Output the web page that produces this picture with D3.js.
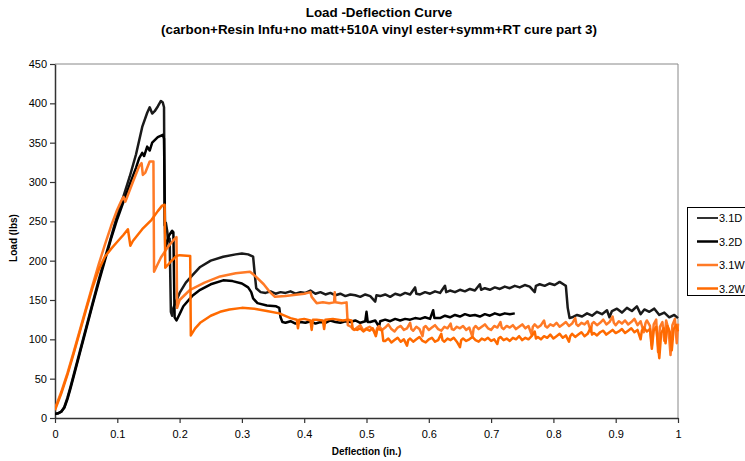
<!DOCTYPE html>
<html>
<head>
<meta charset="utf-8">
<script src="https://cdn.jsdelivr.net/npm/d3@7"></script>
<style>
  body { margin: 0; background: #fff; }
  text { font-family: "Liberation Sans", Arial, sans-serif; }
</style>
</head>
<body>
<svg id="chart" width="745" height="461"></svg>
<script>
// Load-deflection records, [deflection (in.), load (lbs)]
const seriesNames = ["3.1D", "3.2D", "3.1W", "3.2W"];
const xTickValues = [0, 0.1, 0.2, 0.3, 0.4, 0.5, 0.6, 0.7, 0.8, 0.9, 1];
const yTickValues = [0, 50, 100, 150, 200, 250, 300, 350, 400, 450];

const load31D = [
  [0,5],[0.005,6],[0.01,8],[0.015,14],[0.02,26],[0.025,40],[0.03,55],[0.04,85],[0.05,115],
  [0.06,145],[0.07,175],[0.08,203],[0.09,230],[0.1,258],[0.11,282],[0.12,307],[0.13,335],
  [0.14,370],[0.148,388],[0.152,395],[0.156,387],[0.16,390],[0.165,396],[0.17,403],[0.173,401],
  [0.175,395],[0.176,245],[0.178,248],[0.18,238],[0.182,225],[0.184,228],[0.186,135],[0.188,130],
  [0.19,140],[0.2,159],[0.21,172],[0.22,181],[0.233,192],[0.25,200],[0.27,205],[0.29,208],
  [0.3,209],[0.31,208],[0.318,205],[0.321,180],[0.323,165],[0.33,160],
  [0.338,159],[0.346,161],[0.354,158],[0.362,160],[0.37,159],[0.378,161],[0.386,158],[0.394,160],
  [0.402,159],[0.41,162],[0.418,158],[0.426,160],[0.434,157],[0.442,159],[0.45,156],[0.458,158],
  [0.466,155],[0.474,157],[0.482,156],[0.49,154],[0.498,157],[0.506,155],[0.514,148],[0.516,156],
  [0.522,155],[0.53,157],[0.538,154],[0.546,158],[0.554,156],[0.562,159],[0.57,157],[0.578,166],
  [0.58,158],[0.586,157],[0.594,160],[0.602,158],[0.61,161],[0.618,159],[0.626,168],[0.628,160],
  [0.634,162],[0.642,160],[0.65,163],[0.658,161],[0.666,164],[0.674,162],[0.682,170],[0.684,163],
  [0.69,165],[0.698,163],[0.706,166],[0.714,164],[0.722,167],[0.73,165],[0.738,168],[0.746,166],
  [0.754,169],[0.762,167],[0.77,160],[0.772,168],[0.778,170],[0.786,168],[0.794,171],[0.802,169],
  [0.81,173],[0.816,170],[0.82,168],[0.823,140],[0.826,127],[0.83,128],[0.838,131],[0.846,129],
  [0.854,133],[0.862,130],[0.87,135],[0.878,132],[0.886,137],[0.89,128],[0.894,136],[0.902,139],
  [0.91,134],[0.918,140],[0.926,136],[0.934,142],[0.94,132],[0.946,138],[0.954,135],[0.962,139],
  [0.97,131],[0.978,134],[0.986,128],[0.994,131],[1.0,127]
];

const load32D = [
  [0,5],[0.005,6],[0.01,8],[0.015,13],[0.02,24],[0.025,38],[0.03,53],[0.04,83],[0.05,113],
  [0.06,143],[0.07,172],[0.08,200],[0.09,228],[0.1,253],[0.11,275],[0.12,297],[0.13,318],
  [0.135,330],[0.14,337],[0.143,333],[0.148,345],[0.152,340],[0.156,350],[0.165,357],[0.173,360],
  [0.175,355],[0.177,215],[0.183,232],[0.188,238],[0.19,236],[0.192,128],[0.195,124],[0.2,132],
  [0.206,142],[0.22,155],[0.233,163],[0.25,170],[0.27,175],[0.285,174],[0.3,171],[0.31,166],
  [0.315,160],[0.318,152],[0.325,146],[0.34,143],[0.355,142],[0.36,140],[0.362,128],[0.365,122],
  [0.37,121],[0.378,123],[0.386,120],[0.394,122],[0.402,121],[0.41,123],[0.418,120],[0.426,122],
  [0.434,121],[0.442,124],[0.45,122],[0.458,121],[0.466,123],[0.474,122],[0.482,124],[0.49,121],
  [0.498,123],[0.5,135],[0.502,122],[0.506,122],[0.514,124],[0.52,116],[0.522,123],[0.53,125],
  [0.538,123],[0.546,126],[0.554,124],[0.562,126],[0.57,125],[0.578,127],[0.586,126],[0.594,128],
  [0.602,126],[0.607,137],[0.609,127],[0.618,127],[0.626,130],[0.634,128],[0.642,131],[0.65,129],
  [0.658,132],[0.666,130],[0.674,131],[0.682,129],[0.69,132],[0.698,130],[0.706,133],[0.714,131],
  [0.722,133],[0.73,132],[0.738,133]
];

const load31W = [
  [0,12],[0.01,33],[0.02,57],[0.03,84],[0.04,112],[0.05,140],[0.06,168],[0.07,195],[0.08,220],
  [0.09,244],[0.1,265],[0.107,277],[0.11,281],[0.113,275],[0.125,300],[0.135,320],[0.139,324],
  [0.141,309],[0.145,312],[0.152,326],[0.158,326],[0.159,186],[0.17,204],[0.18,216],[0.19,226],
  [0.195,230],[0.196,140],[0.2,150],[0.217,163],[0.24,172],[0.265,180],[0.29,184],[0.313,186],
  [0.322,180],[0.335,170],[0.345,160],[0.353,154],[0.37,155],[0.38,156],[0.39,157],[0.4,158],
  [0.41,160],[0.412,154],[0.42,146],[0.43,147],[0.44,146],[0.448,147],[0.449,160],[0.45,147],
  [0.46,146],[0.468,147],[0.47,118],
  [0.475,116],[0.48,112],[0.485,115],[0.49,118],[0.495,111],[0.5,114],[0.505,116],[0.51,113],
  [0.515,106],[0.517,114],[0.52,117],[0.525,112],[0.53,115],[0.535,119],[0.54,113],[0.545,110],
  [0.55,115],[0.555,117],[0.56,112],[0.565,114],[0.57,121],[0.572,113],[0.575,111],[0.58,116],
  [0.585,113],[0.59,104],[0.592,115],[0.595,117],[0.6,112],[0.605,115],[0.61,118],[0.615,113],
  [0.62,111],[0.625,116],[0.63,114],[0.635,120],[0.637,113],[0.64,112],[0.645,116],[0.65,114],
  [0.655,117],[0.66,112],[0.665,115],[0.67,103],[0.672,114],[0.675,117],[0.68,113],[0.685,116],
  [0.69,119],[0.695,114],[0.7,112],[0.705,117],[0.71,115],[0.715,122],[0.717,115],[0.72,113],
  [0.725,117],[0.73,115],[0.735,118],[0.74,113],[0.745,116],[0.75,119],[0.755,114],[0.76,117],
  [0.765,106],[0.767,116],[0.77,119],[0.775,115],[0.78,118],[0.785,124],[0.787,117],[0.79,115],
  [0.795,119],[0.8,117],[0.805,121],[0.81,116],[0.815,119],[0.82,122],[0.825,117],[0.83,120],
  [0.835,127],[0.837,119],[0.84,117],[0.845,121],[0.85,119],[0.855,123],[0.86,110],[0.862,120],
  [0.865,122],[0.87,118],[0.875,121],[0.88,125],[0.885,119],[0.89,122],[0.895,129],[0.897,121],
  [0.9,118],[0.905,123],[0.91,120],[0.915,124],[0.92,119],[0.925,122],[0.93,126],[0.935,118],
  [0.94,123],[0.945,109],[0.948,121],[0.95,124],[0.955,117],[0.958,92],[0.961,119],[0.965,125],
  [0.968,84],[0.971,116],[0.975,122],[0.978,98],[0.981,124],[0.985,112],[0.988,80],[0.991,118],
  [0.995,126],[0.998,95],[1.0,120]
];

const load32W = [
  [0,10],[0.01,31],[0.02,55],[0.03,82],[0.04,110],[0.05,138],[0.06,165],[0.07,188],[0.08,205],
  [0.09,215],[0.1,224],[0.11,233],[0.117,240],[0.121,219],[0.125,225],[0.14,240],[0.155,252],
  [0.165,263],[0.172,270],[0.176,271],[0.177,191],[0.185,198],[0.195,206],[0.2,207],[0.217,206],
  [0.218,105],[0.225,114],[0.233,121],[0.25,130],[0.265,135],[0.28,138],[0.3,140],[0.32,139],
  [0.34,136],[0.36,133],[0.378,127],[0.388,125],[0.39,114],[0.392,125],[0.4,126],[0.41,124],
  [0.412,112],[0.414,125],[0.42,125],[0.43,124],[0.432,113],[0.434,125],[0.446,126],[0.454,125],
  [0.462,124],[0.47,125],[0.476,124],[0.478,113],[0.485,112],[0.49,114],[0.495,110],[0.5,113],
  [0.505,111],[0.51,114],[0.515,104],[0.517,112],[0.52,113],[0.525,111],[0.527,98],
  [0.53,98],[0.535,101],[0.54,96],[0.545,99],[0.55,102],[0.555,97],[0.56,100],[0.565,92],
  [0.567,99],[0.57,101],[0.575,97],[0.58,100],[0.585,103],[0.59,98],[0.595,96],[0.6,100],
  [0.605,102],[0.61,97],[0.615,99],[0.62,107],[0.622,99],[0.625,97],[0.63,101],[0.635,99],
  [0.64,102],[0.645,97],[0.65,90],[0.652,99],[0.655,101],[0.66,98],[0.665,100],[0.67,103],
  [0.675,99],[0.68,97],[0.685,101],[0.69,99],[0.695,102],[0.7,98],[0.705,100],[0.71,94],
  [0.712,101],[0.715,103],[0.72,99],[0.725,101],[0.73,98],[0.735,102],[0.74,100],[0.745,104],
  [0.75,99],[0.755,102],[0.76,100],[0.765,104],[0.77,110],[0.772,101],[0.775,103],[0.78,100],
  [0.785,104],[0.79,102],[0.795,106],[0.8,101],[0.805,104],[0.81,107],[0.815,102],[0.82,105],
  [0.825,97],[0.827,104],[0.83,107],[0.835,103],[0.84,106],[0.845,109],[0.85,104],[0.855,107],
  [0.86,115],[0.862,106],[0.865,108],[0.87,105],[0.875,109],[0.88,111],[0.885,106],[0.89,109],
  [0.895,112],[0.9,108],[0.905,110],[0.91,113],[0.915,108],[0.92,111],[0.925,114],[0.93,109],
  [0.935,112],[0.94,100],[0.942,111],[0.945,115],[0.95,110],[0.955,113],[0.958,88],[0.961,111],
  [0.965,116],[0.97,76],[0.973,108],[0.977,114],[0.98,95],[0.983,117],[0.987,109],[0.99,86],
  [0.993,113],[0.997,118],[1.0,110]
];

const seriesData = [load31D, load32D, load31W, load32W];
const seriesColors = ["#1a1a1a", "#000000", "#ff7a26", "#ff6a00"];

const svg = d3.select("#chart");
const plot = { left: 55, right: 678, top: 64, bottom: 418 };

const x = d3.scaleLinear().domain([0, 1]).range([plot.left, plot.right]);
const y = d3.scaleLinear().domain([0, 450]).range([plot.bottom, plot.top]);

// Titles
svg.append("text").attr("x", 379).attr("y", 17).attr("text-anchor", "middle")
  .attr("font-size", 13.4).attr("font-weight", "bold").text("Load -Deflection Curve");
svg.append("text").attr("x", 379).attr("y", 34).attr("text-anchor", "middle")
  .attr("font-size", 13.4).attr("font-weight", "bold")
  .text("(carbon+Resin Infu+no matt+510A vinyl ester+symm+RT cure part 3)");

// Plot frame: grey top and right edges
svg.append("line").attr("x1", plot.left).attr("x2", plot.right)
  .attr("y1", plot.top).attr("y2", plot.top).attr("stroke", "#888").attr("stroke-width", 1);
svg.append("line").attr("x1", plot.right).attr("x2", plot.right)
  .attr("y1", plot.top).attr("y2", plot.bottom).attr("stroke", "#888").attr("stroke-width", 1);

// Axes
const yAxis = svg.append("g").attr("transform", `translate(${plot.left},0)`)
  .call(d3.axisLeft(y).tickValues(yTickValues).tickSize(5).tickSizeOuter(0).tickPadding(3));
const xAxis = svg.append("g").attr("transform", `translate(0,${plot.bottom})`)
  .call(d3.axisBottom(x).tickValues(xTickValues).tickSize(5).tickSizeOuter(0).tickPadding(7)
    .tickFormat(d3.format("")));
[yAxis, xAxis].forEach(g => {
  g.selectAll("text").attr("font-size", 11).attr("fill", "#000")
    .attr("font-family", "'Liberation Sans', Arial, sans-serif");
  g.selectAll("line").attr("stroke", "#333").attr("stroke-width", 1.2);
  g.select(".domain").attr("stroke", "#333").attr("stroke-width", 1.5);
});

svg.append("text").attr("transform", `translate(17,238) rotate(-90)`)
  .attr("text-anchor", "middle").attr("font-size", 10).attr("font-weight", "bold").text("Load (lbs)");
svg.append("text").attr("x", (plot.left + plot.right) / 2).attr("y", 455)
  .attr("text-anchor", "middle").attr("font-size", 10).attr("font-weight", "bold").text("Deflection (in.)");

// Curves
svg.append("clipPath").attr("id", "plotClip").append("rect")
  .attr("x", plot.left).attr("y", plot.top)
  .attr("width", plot.right - plot.left + 2).attr("height", plot.bottom - plot.top + 2);

const line = d3.line().x(d => x(d[0])).y(d => y(d[1]));
svg.append("g").attr("clip-path", "url(#plotClip)")
  .selectAll("path").data(seriesData).join("path")
  .attr("d", line).attr("fill", "none")
  .attr("stroke", (d, i) => seriesColors[i])
  .attr("stroke-width", 2.5).attr("stroke-linejoin", "round");

// Legend
const legend = svg.append("g").attr("transform", "translate(687,207)");
legend.append("rect").attr("x", 0.5).attr("y", 0.5).attr("width", 70).attr("height", 88)
  .attr("fill", "#fff").attr("stroke", "#000").attr("stroke-width", 1);
seriesNames.forEach((name, i) => {
  const ly = 11 + i * 23.5;
  legend.append("line").attr("x1", 10).attr("x2", 31).attr("y1", ly).attr("y2", ly)
    .attr("stroke", seriesColors[i]).attr("stroke-width", i === 0 ? 1.8 : 2.5);
  legend.append("text").attr("x", 32).attr("y", ly + 4).attr("font-size", 11).text(name);
});
</script>
</body>
</html>
